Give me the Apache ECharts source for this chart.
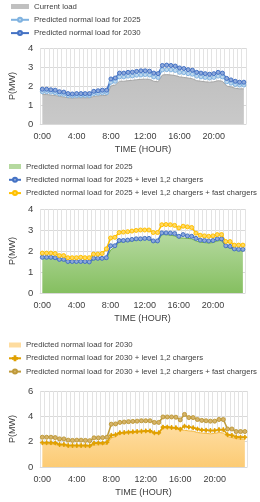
<!DOCTYPE html>
<html>
<head>
<meta charset="utf-8">
<script src="https://cdn.jsdelivr.net/npm/echarts@6/dist/echarts.min.js"></script>
<style>
html,body{margin:0;padding:0;background:#fff;}
#c{width:260px;height:502px;}
</style>
</head>
<body>
<div id="c"></div>
<script>
// categories: 30-minute steps over one day
const times = [];
for (let h = 0; h < 24; h++) { times.push(h + ':00'); times.push(h + ':30'); }

// Chart 1
const currentLoad = [1.55,1.55,1.52,1.50,1.45,1.42,1.38,1.36,1.38,1.38,1.38,1.38,1.45,1.48,1.50,1.50,2.00,2.05,2.25,2.25,2.28,2.30,2.33,2.35,2.36,2.35,2.25,2.22,2.58,2.60,2.58,2.55,2.48,2.45,2.42,2.38,2.28,2.25,2.22,2.20,2.22,2.28,2.25,2.00,1.95,1.88,1.85,1.85];
const load2025 = [1.70,1.70,1.68,1.65,1.58,1.56,1.50,1.48,1.50,1.50,1.50,1.50,1.60,1.62,1.65,1.65,2.20,2.25,2.48,2.48,2.52,2.53,2.57,2.58,2.60,2.58,2.48,2.45,2.85,2.86,2.85,2.82,2.72,2.70,2.65,2.62,2.52,2.48,2.45,2.42,2.45,2.52,2.48,2.22,2.15,2.08,2.05,2.05];
const load2030 = [1.83,1.83,1.80,1.78,1.70,1.68,1.60,1.58,1.60,1.60,1.60,1.60,1.72,1.75,1.78,1.78,2.37,2.42,2.68,2.68,2.72,2.73,2.77,2.80,2.80,2.78,2.68,2.65,3.08,3.10,3.08,3.05,2.95,2.92,2.86,2.83,2.72,2.68,2.65,2.62,2.65,2.72,2.68,2.40,2.32,2.25,2.20,2.20];

// Chart 2
const normal2025 = [1.66,1.66,1.65,1.63,1.56,1.55,1.46,1.45,1.46,1.46,1.46,1.45,1.60,1.61,1.62,1.63,2.05,2.18,2.42,2.44,2.46,2.48,2.52,2.54,2.55,2.55,2.42,2.42,2.78,2.78,2.75,2.72,2.62,2.62,2.60,2.58,2.48,2.42,2.40,2.38,2.40,2.48,2.50,2.20,2.15,2.05,2.02,2.00];
const lvl2025 = [1.70,1.70,1.70,1.68,1.60,1.60,1.50,1.50,1.50,1.50,1.50,1.48,1.65,1.65,1.65,1.68,2.25,2.25,2.50,2.50,2.52,2.55,2.58,2.58,2.60,2.60,2.48,2.48,2.86,2.86,2.85,2.83,2.70,2.78,2.72,2.70,2.60,2.52,2.50,2.48,2.50,2.58,2.58,2.25,2.22,2.10,2.08,2.08];
const fast2025 = [1.90,1.90,1.90,1.88,1.78,1.78,1.68,1.68,1.68,1.70,1.68,1.68,1.85,1.85,1.88,2.10,2.62,2.65,2.88,2.90,2.92,2.95,2.98,3.00,3.00,3.00,2.88,2.88,3.25,3.26,3.25,3.22,3.10,3.18,3.15,3.12,2.85,2.75,2.72,2.70,2.72,2.78,2.78,2.45,2.45,2.28,2.28,2.28];

// Chart 3
const normal2030 = [1.82,1.82,1.80,1.78,1.68,1.68,1.60,1.58,1.60,1.60,1.60,1.58,1.75,1.75,1.78,1.80,2.30,2.40,2.62,2.65,2.68,2.70,2.75,2.78,2.80,2.78,2.65,2.62,3.05,3.08,3.05,3.02,2.92,2.90,2.85,2.82,2.72,2.68,2.65,2.62,2.65,2.72,2.68,2.40,2.32,2.25,2.20,2.20];
const lvl2030 = [1.92,1.92,1.92,1.90,1.78,1.78,1.70,1.70,1.70,1.70,1.70,1.68,1.88,1.90,1.90,1.95,2.50,2.55,2.70,2.72,2.75,2.78,2.80,2.82,2.85,2.85,2.70,2.70,3.15,3.15,3.12,3.10,2.98,3.22,3.15,3.10,3.00,2.92,2.90,2.88,2.88,2.95,2.95,2.55,2.50,2.38,2.35,2.35];
const fast2030 = [2.35,2.35,2.35,2.32,2.22,2.22,2.12,2.10,2.12,2.12,2.10,2.08,2.30,2.30,2.32,2.35,3.38,3.40,3.52,3.55,3.58,3.60,3.62,3.65,3.65,3.65,3.52,3.52,3.95,3.95,3.95,3.93,3.72,4.15,3.90,3.90,3.75,3.68,3.65,3.62,3.62,3.75,3.75,3.00,3.00,2.80,2.80,2.80];

const yTicks1 = [0, 4, 1];
const yTicks3 = [0, 6, 2];

const FONT = 'Liberation Sans, Arial, sans-serif';
const TXT = '#404040';
const GRID = '#d9d9d9';

const grids = [
  {left: 31, width: 215, top: 48, height: 76},
  {left: 30, width: 215, top: 209, height: 84},
  {left: 31, width: 216, top: 391, height: 76}
];
const yRanges = [yTicks1, yTicks1, yTicks3];

function xAxis(i) {
  return {
    type: 'category', gridIndex: i, data: times, boundaryGap: true,
    axisLine: {show: true, lineStyle: {color: GRID}},
    axisTick: {show: false},
    axisLabel: {interval: 7, color: TXT, fontSize: 9, fontFamily: FONT, margin: 8},
    splitLine: {show: true, interval: 0, lineStyle: {color: '#e3e3e3', width: 1}},
    name: 'TIME (HOUR)', nameLocation: 'middle', nameGap: 21,
    nameTextStyle: {color: TXT, fontSize: 9, fontFamily: FONT}
  };
}
function yAxis(i) {
  const r = yRanges[i];
  return {
    type: 'value', gridIndex: i, min: r[0], max: r[1], interval: r[2],
    axisLine: {show: false}, axisTick: {show: false},
    axisLabel: {color: TXT, fontSize: 9.5, fontFamily: FONT, margin: 7},
    splitLine: {lineStyle: {color: GRID}},
    name: 'P(MW)', nameLocation: 'middle', nameGap: 15, nameRotate: 90,
    nameTextStyle: {color: TXT, fontSize: 9, fontFamily: FONT}
  };
}
function grad(a, b) {
  return new echarts.graphic.LinearGradient(0, 0, 0, 1, [{offset: 0, color: a}, {offset: 1, color: b}]);
}
function area(name, i, data, c1, c2, border) {
  return {
    name, type: 'line', xAxisIndex: i, yAxisIndex: i, data,
    showSymbol: false, symbol: 'rect', areaStyle: {color: grad(c1, c2), opacity: 1},
    lineStyle: {color: border, width: 1}, itemStyle: {color: c1, borderColor: border},
    animation: false, z: 1
  };
}
function line(name, i, data, color, fill, symbol, size) {
  return {
    name, type: 'line', xAxisIndex: i, yAxisIndex: i, data,
    symbol: symbol || 'circle', symbolSize: size || 4, showSymbol: true, showAllSymbol: true,
    lineStyle: {color, width: 1.5},
    itemStyle: {color: fill, borderColor: color, borderWidth: 1},
    animation: false, z: 3
  };
}
const CROSS = 'path://M4,0H6V4H10V6H6V10H4V6H0V4H4Z';

const legendText = {color: TXT, fontSize: 7.8, fontFamily: FONT};
function legendCfg(left, top, w, names) {
  return {
    orient: 'vertical', left, top, itemWidth: w, itemHeight: 5, itemGap: 5.3,
    textStyle: legendText, padding: 0,
    data: [{name: names[0], icon: 'rect'}, {name: names[1]}, {name: names[2]}]
  };
}
const names1 = ['Current load', 'Predicted normal load for 2025', 'Predicted normal load for 2030'];
const names2 = ['Predicted normal load for 2025 ', 'Predicted normal load for 2025 + level 1,2 chargers', 'Predicted normal load for 2025 + level 1,2 chargers + fast chargers'];
const names3 = ['Predicted normal load for 2030 ', 'Predicted normal load for 2030 + level 1,2 chargers', 'Predicted normal load for 2030 + level 1,2 chargers + fast chargers'];

const option = {
  backgroundColor: '#fff',
  animation: false,
  grid: grids,
  xAxis: [xAxis(0), xAxis(1), xAxis(2)],
  yAxis: [yAxis(0), yAxis(1), yAxis(2)],
  legend: [
    legendCfg(10, 2.5, 18, names1),
    legendCfg(8, 162.5, 12, names2),
    legendCfg(8, 341, 12, names3)
  ],
  series: [
    area(names1[0], 0, currentLoad, '#c0c0c0', '#c9c9c9', '#a6a6a6'),
    line(names1[1], 0, load2025, '#7fb2e0', '#bdd7ee'),
    line(names1[2], 0, load2030, '#4472c4', '#8faadc'),
    area(names2[0], 1, normal2025, '#b5d99f', '#85bf60', '#70ad47'),
    line(names2[1], 1, lvl2025, '#4472c4', '#8faadc'),
    line(names2[2], 1, fast2025, '#ffc000', '#ffd966'),
    area(names3[0], 2, normal2030, '#fedc9f', '#fccb74', '#f4b942'),
    line(names3[1], 2, lvl2030, '#e0a000', '#e0a000', CROSS, 4),
    line(names3[2], 2, fast2030, '#bf9a3a', '#d6b46a')
  ]
};
const chart = echarts.init(document.getElementById('c'), null, {renderer: 'canvas'});
chart.setOption(option);
</script>
</body>
</html>
